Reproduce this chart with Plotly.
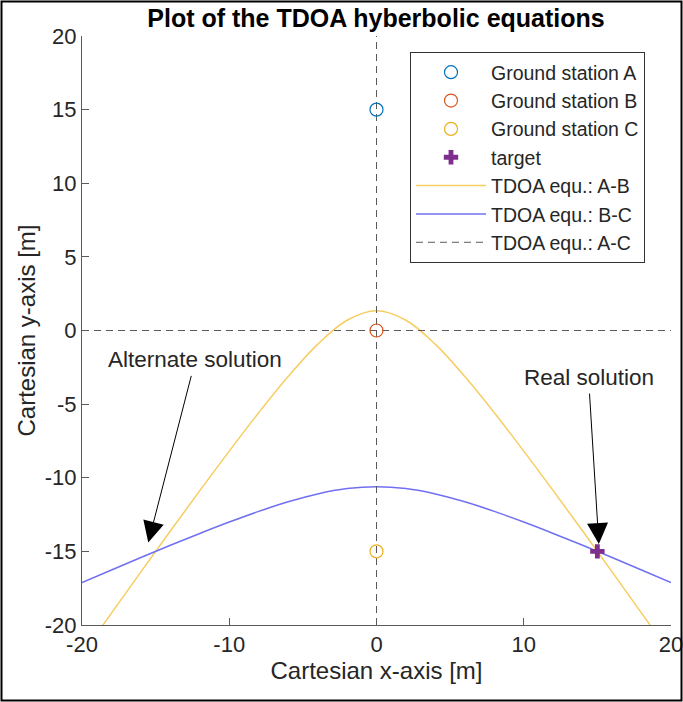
import plotly.graph_objects as go

# Ground station and target positions [m]
station_a = (0, 15)
station_b = (0, 0)
station_c = (0, -15)
target = (15, -15)

# Sampled hyperbola branches (x in m, y in m)
curve_x = [-20, -18, -16, -14, -12, -10, -8, -6, -4, -2, 0,
           2, 4, 6, 8, 10, 12, 14, 16, 18, 20]
ab_y = [-22.005, -19.190, -16.392, -13.617, -10.877, -8.189, -5.584, -3.127, -0.944, 0.694, 1.336,
        0.694, -0.944, -3.127, -5.584, -8.189, -10.877, -13.617, -16.392, -19.190, -22.005]
bc_y = [-17.117, -16.261, -15.417, -14.588, -13.783, -13.010, -12.286, -11.636, -11.101, -10.737, -10.607,
        -10.737, -11.101, -11.636, -12.286, -13.010, -13.783, -14.588, -15.417, -16.261, -17.117]

# A-C equation drawn along the axes
ac_x = [0, 0, None, -20, 20]
ac_y = [-20, 20, None, 0, 0]

# Tick values and labels
x_ticks = [-20, -10, 0, 10, 20]
x_labels = ["-20", "-10", "0", "10", "20"]
y_ticks = [-20, -15, -10, -5, 0, 5, 10, 15, 20]
y_labels = ["-20", "-15", "-10", "-5", "0", "5", "10", "15", "20"]

# Annotated solutions: (label, arrow tip, text position)
alt_label, alt_tip, alt_text = "Alternate solution", (-15.5, -14.4), (-12.3, -2.0)
real_label, real_tip, real_text = "Real solution", (15.1, -14.5), (14.4, -3.2)

FONT = "Liberation Sans, Arial, Helvetica, sans-serif"
INK = "#262626"
AXC = "#5a5a5a"

W, H = 683, 702
ML, MR, MT, MB = 82, 12, 36, 77

fig = go.Figure()

# Curves first so the markers sit on top
fig.add_trace(go.Scatter(x=curve_x, y=ab_y, mode="lines", name="TDOA equ.: A-B", legendrank=5,
                         line=dict(color="#F7CD62", width=1.5, shape="spline")))
fig.add_trace(go.Scatter(x=curve_x, y=bc_y, mode="lines", name="TDOA equ.: B-C", legendrank=6,
                         line=dict(color="#7070F2", width=1.5, shape="spline")))
fig.add_trace(go.Scatter(x=ac_x, y=ac_y, mode="lines", name="TDOA equ.: A-C", legendrank=7,
                         line=dict(color=AXC, width=1, dash="7px,5px")))

fig.add_trace(go.Scatter(x=[station_a[0]], y=[station_a[1]], mode="markers",
                         name="Ground station A", legendrank=1,
                         marker=dict(symbol="circle-open", size=13, color="#0072BD",
                                     line=dict(width=1.2))))
fig.add_trace(go.Scatter(x=[station_b[0]], y=[station_b[1]], mode="markers",
                         name="Ground station B", legendrank=2,
                         marker=dict(symbol="circle-open", size=13, color="#D95319",
                                     line=dict(width=1.2))))
fig.add_trace(go.Scatter(x=[station_c[0]], y=[station_c[1]], mode="markers",
                         name="Ground station C", legendrank=3,
                         marker=dict(symbol="circle-open", size=13, color="#EDB120",
                                     line=dict(width=1.2))))
fig.add_trace(go.Scatter(x=[target[0]], y=[target[1]], mode="markers",
                         name="target", legendrank=4,
                         marker=dict(symbol="cross", size=12, color="#7E2F8E",
                                     line=dict(width=0))))

for label, tip, txt in [(alt_label, alt_tip, alt_text), (real_label, real_tip, real_text)]:
    fig.add_annotation(x=tip[0], y=tip[1], ax=txt[0], ay=txt[1],
                       xref="x", yref="y", axref="x", ayref="y",
                       text=label, showarrow=True, arrowhead=2, arrowsize=4.2,
                       arrowwidth=1, arrowcolor="black", standoff=0, startstandoff=2,
                       font=dict(family=FONT, size=22.5, color=INK))

pw = W - ML - MR
ph = H - MT - MB
# Outer figure frame
fig.add_shape(type="rect", xref="paper", yref="paper",
              x0=-(ML - 1.5) / pw, x1=1 + (MR - 1.5) / pw,
              y0=-(MB - 1.5) / ph, y1=1 + (MT - 1.5) / ph,
              line=dict(color="black", width=2), layer="above")

axis_common = dict(showgrid=False, zeroline=False, showline=True, linecolor=AXC,
                   linewidth=1, ticks="inside", ticklen=7, tickcolor=AXC,
                   mirror=False, automargin=False, range=[-20, 20],
                   ticklabeloverflow="allow",
                   tickfont=dict(family=FONT, size=22, color=INK))

fig.update_layout(
    width=W, height=H,
    margin=dict(l=ML, r=MR, t=MT, b=MB, autoexpand=False),
    paper_bgcolor="white", plot_bgcolor="white",
    title=dict(text="<b>Plot of the TDOA hyberbolic equations</b>",
               font=dict(family=FONT, size=25, color="black"),
               x=376 / W, xanchor="center", y=1 - 18 / H, yanchor="middle"),
    xaxis=dict(tickvals=x_ticks, ticktext=x_labels,
               title=dict(text="Cartesian x-axis [m]", standoff=4,
                          font=dict(family=FONT, size=24, color=INK)),
               **axis_common),
    yaxis=dict(tickvals=y_ticks, ticktext=y_labels,
               title=dict(text="Cartesian y-axis [m]", standoff=2,
                          font=dict(family=FONT, size=24, color=INK)),
               **axis_common),
    legend=dict(x=(410 - ML) / pw, y=1 - (52 - MT) / ph, xanchor="left", yanchor="top",
                bgcolor="white", bordercolor="#333333", borderwidth=1,
                font=dict(family=FONT, size=19.5, color=INK),
                itemwidth=70, tracegroupgap=0, traceorder="normal"),
    showlegend=True,
)

fig.write_html("out.html")
